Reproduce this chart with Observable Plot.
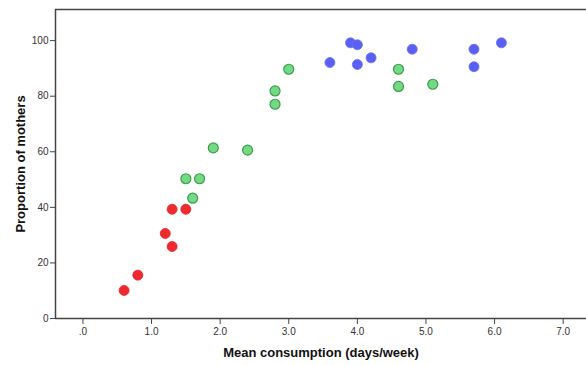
<!DOCTYPE html>
<html>
<head>
<meta charset="utf-8">
<script src="https://cdn.jsdelivr.net/npm/d3@7"></script>
<script src="https://cdn.jsdelivr.net/npm/@observablehq/plot@0.6"></script>
<style>
  html, body { margin: 0; padding: 0; background: #fff; }
  #chart svg { display: block; }
</style>
</head>
<body>
<div id="chart"></div>
<script>
// Data (mean consumption days/week, proportion of mothers %)
const redX   = [0.6, 0.8, 1.2, 1.3, 1.3, 1.5];
const redY   = [10.1, 15.6, 30.6, 25.9, 39.3, 39.3];
const greenX = [1.6, 1.5, 1.7, 1.9, 2.4, 2.8, 2.8, 3.0, 4.6, 4.6, 5.1];
const greenY = [43.3, 50.3, 50.3, 61.4, 60.6, 81.9, 77.1, 89.7, 89.7, 83.5, 84.3];
const blueX  = [3.6, 3.9, 4.0, 4.0, 4.2, 4.8, 5.7, 5.7, 6.1];
const blueY  = [92.1, 99.2, 98.5, 91.4, 93.8, 96.9, 96.9, 90.6, 99.2];

const xTicks = [0, 1, 2, 3, 4, 5, 6, 7];
const yTicks = [0, 20, 40, 60, 80, 100];
const xDomain = [-0.4, 7.34];
const yDomain = [0, 111.2];

const toRows = (xs, ys) => xs.map((x, i) => ({x, y: ys[i]}));
const red = toRows(redX, redY);
const green = toRows(greenX, greenY);
const blue = toRows(blueX, blueY);

const frameColor = "#444";

const chart = Plot.plot({
  width: 586,
  height: 365,
  marginTop: 9,
  marginBottom: 47,
  marginLeft: 55,
  marginRight: 0,
  style: {fontFamily: "'Liberation Sans', Arial, sans-serif", fontSize: "10px", color: "#222", background: "#fff"},
  x: {domain: xDomain},
  y: {domain: yDomain},
  marks: [
    Plot.ruleY([yDomain[0]], {stroke: frameColor, strokeWidth: 1.5}),
    Plot.ruleY([yDomain[1]], {stroke: frameColor, strokeWidth: 1.5}),
    Plot.ruleX([xDomain[0]], {stroke: frameColor, strokeWidth: 1.5}),
    Plot.axisX({
      ticks: xTicks, tickSize: 6, tickPadding: 3, stroke: frameColor,
      tickFormat: d => d === 0 ? ".0" : d.toFixed(1),
      fill: "#333", fontSize: 10,
      label: "Mean consumption (days/week)", labelAnchor: "center", labelOffset: 38, labelArrow: "none"
    }),
    Plot.axisY({
      ticks: yTicks, tickSize: 5, tickPadding: 2, stroke: frameColor,
      fill: "#333", fontSize: 10,
      label: "Proportion of mothers", labelAnchor: "center", labelOffset: 40, labelArrow: "none"
    }),
    Plot.dot(red, {x: "x", y: "y", r: 5, fill: "#ee2a2e", stroke: "#e0272b", strokeWidth: 0.8}),
    Plot.dot(green, {x: "x", y: "y", r: 5, fill: "#74d984", stroke: "#3a9e4c", strokeWidth: 1.2}),
    Plot.dot(blue, {x: "x", y: "y", r: 5, fill: "#5a61f2", stroke: "#6a70ee", strokeWidth: 0.8})
  ]
});

// Bold axis labels
d3.select(chart).selectAll("[aria-label='x-axis label'] text, [aria-label='y-axis label'] text")
  .style("font-weight", "bold").style("font-size", "13px").style("fill", "#111");

document.getElementById("chart").appendChild(chart);
</script>
</body>
</html>
